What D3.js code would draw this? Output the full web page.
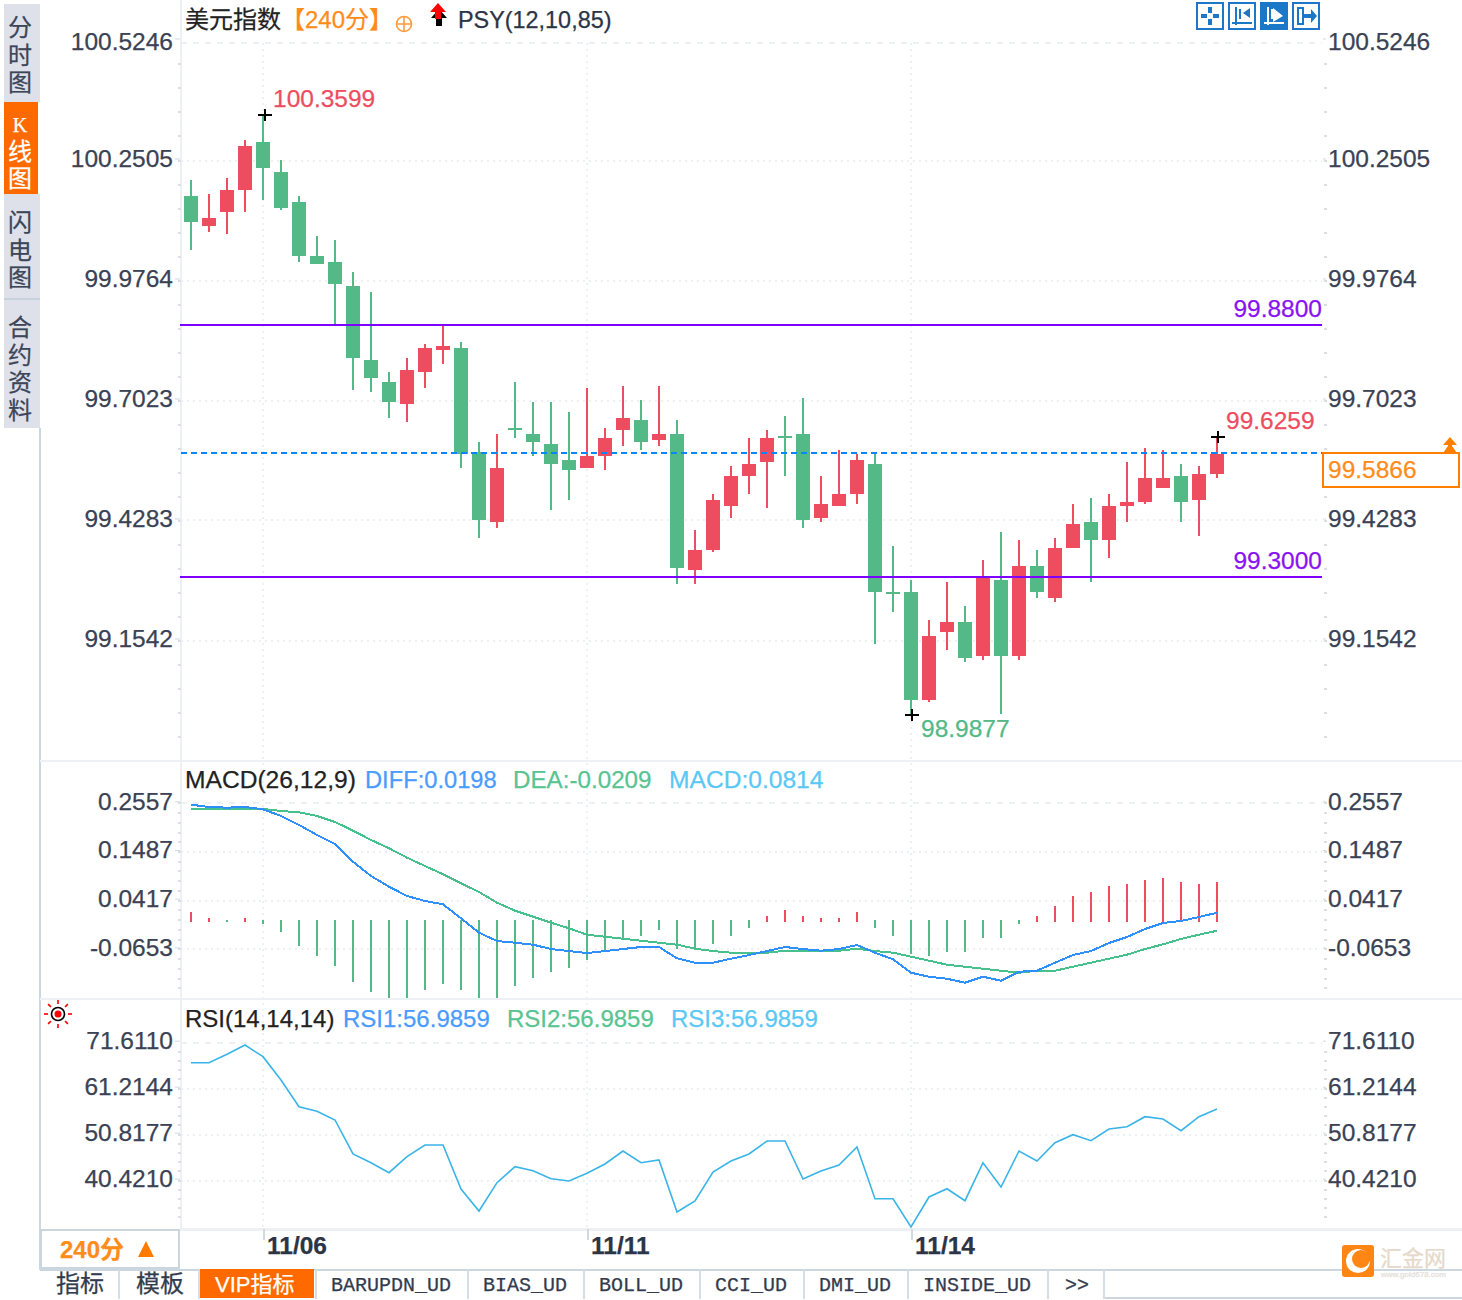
<!DOCTYPE html>
<html lang="zh">
<head>
<meta charset="UTF-8">
<title>美元指数</title>
<style>
  html, body { margin: 0; padding: 0; background: #fff; }
  svg { display: block; }
  text { font-family: "Liberation Sans", "Noto Sans CJK SC", sans-serif; stroke-width: 0.25px; }
  .tick text { font-size: 24.5px; fill: #3a4254; stroke: #3a4254; }
</style>
</head>
<body>
<svg id="chart" width="1462" height="1300"></svg>
<script src="https://cdnjs.cloudflare.com/ajax/libs/d3/7.8.5/d3.min.js"></script>
<script>
const opens = [100.1694,100.1009,100.1328,100.1831,100.2927,100.2242,100.1557,100.0323,100.0186,99.9638,99.7948,99.7445,99.6943,99.7674,99.8176,99.8222,99.5846,99.4247,99.6395,99.6258,99.6029,99.5664,99.5481,99.5755,99.6349,99.6577,99.6121,99.6258,99.3151,99.3608,99.4613,99.5298,99.5618,99.6212,99.6258,99.4339,99.4613,99.4887,99.5572,99.2649,99.2649,99.0182,99.1735,99.1963,99.1187,99.2923,99.1187,99.3242,99.2511,99.3654,99.4247,99.3836,99.4613,99.4704,99.5024,99.5298,99.4750,99.5344];
const closes = [100.1100,100.1191,100.1831,100.2836,100.2334,100.1420,100.0323,100.0141,99.9684,99.7994,99.7537,99.6989,99.7719,99.8222,99.8268,99.5801,99.4293,99.5481,99.6349,99.6075,99.5572,99.5435,99.5755,99.6166,99.6623,99.6075,99.6258,99.3197,99.3608,99.4750,99.5298,99.5572,99.6166,99.6166,99.4293,99.4659,99.4887,99.5664,99.2649,99.2603,99.0182,99.1644,99.1963,99.1141,99.2991,99.1187,99.3242,99.2649,99.3654,99.4202,99.3836,99.4613,99.4704,99.5253,99.5253,99.4704,99.5344,99.5801];
const highs = [100.2059,100.1740,100.2105,100.2973,100.3544,100.2516,100.1694,100.0780,100.0689,99.9958,99.9501,99.7674,99.7994,99.8313,99.8747,99.8359,99.6075,99.6258,99.7445,99.6989,99.6989,99.6760,99.7308,99.6395,99.7354,99.7034,99.7354,99.6577,99.4065,99.4887,99.5527,99.6166,99.6349,99.6669,99.7080,99.5298,99.5892,99.5801,99.5801,99.3699,99.2923,99.2009,99.2877,99.2329,99.3379,99.4019,99.3836,99.3608,99.3882,99.4659,99.4796,99.4887,99.5618,99.5938,99.5892,99.5572,99.5527,99.6189];
const lows = [100.0460,100.0872,100.0826,100.1328,100.1603,100.1374,100.0186,100.0141,99.8770,99.7263,99.7217,99.6623,99.6532,99.7308,99.7857,99.5481,99.3882,99.4110,99.6166,99.5755,99.4522,99.4750,99.5481,99.5435,99.5983,99.5892,99.5983,99.2831,99.2831,99.3562,99.4339,99.4887,99.4567,99.5298,99.4110,99.4247,99.4613,99.4659,99.1461,99.2192,98.9839,99.0136,99.1324,99.1050,99.1095,98.9862,99.1095,99.2511,99.2420,99.3654,99.2877,99.3425,99.4247,99.4659,99.5024,99.4247,99.3928,99.5253];

const macdHist = [0.0169,0.0037,-0.0051,0.0037,-0.0095,-0.0271,-0.0579,-0.0799,-0.1019,-0.1371,-0.1590,-0.1722,-0.1722,-0.1546,-0.1414,-0.1546,-0.1722,-0.1722,-0.1458,-0.1282,-0.1151,-0.1063,-0.0887,-0.0667,-0.0418,-0.0359,-0.0227,-0.0638,-0.0638,-0.0535,-0.0359,-0.0183,0.0081,0.0213,0.0081,0.0037,0.0037,0.0169,-0.0183,-0.0359,-0.0755,-0.0799,-0.0711,-0.0711,-0.0403,-0.0403,-0.0095,0.0081,0.0301,0.0520,0.0608,0.0740,0.0784,0.0872,0.0916,0.0828,0.0784,0.0828];
const diffLine = [0.2528,0.2477,0.2462,0.2477,0.2427,0.2279,0.2082,0.1862,0.1664,0.1275,0.0960,0.0725,0.0520,0.0411,0.0338,0.0030,-0.0286,-0.0469,-0.0506,-0.0550,-0.0645,-0.0689,-0.0733,-0.0689,-0.0645,-0.0601,-0.0601,-0.0849,-0.0946,-0.0946,-0.0858,-0.0777,-0.0689,-0.0601,-0.0645,-0.0682,-0.0645,-0.0557,-0.0726,-0.0871,-0.1166,-0.1254,-0.1298,-0.1386,-0.1254,-0.1342,-0.1144,-0.1122,-0.0946,-0.0777,-0.0689,-0.0513,-0.0381,-0.0205,-0.0073,-0.0029,0.0059,0.0153];
const deaLine = [0.2440,0.2440,0.2440,0.2440,0.2433,0.2389,0.2361,0.2279,0.2148,0.1956,0.1752,0.1569,0.1363,0.1180,0.0998,0.0800,0.0608,0.0373,0.0197,0.0065,-0.0067,-0.0190,-0.0330,-0.0374,-0.0418,-0.0462,-0.0506,-0.0550,-0.0638,-0.0689,-0.0726,-0.0726,-0.0726,-0.0682,-0.0682,-0.0682,-0.0682,-0.0638,-0.0689,-0.0726,-0.0814,-0.0902,-0.0990,-0.1034,-0.1078,-0.1122,-0.1166,-0.1122,-0.1122,-0.1034,-0.0946,-0.0858,-0.0770,-0.0645,-0.0542,-0.0425,-0.0330,-0.0243];
const rsiLine = [67.09,67.09,68.99,71.09,68.45,63.18,57.15,56.11,54.14,46.46,44.49,42.23,45.85,48.49,48.49,38.55,33.57,39.97,43.59,42.68,40.87,40.35,42.09,44.20,47.13,44.49,45.10,33.35,35.83,42.39,44.87,46.46,49.39,49.39,40.80,42.61,43.97,48.04,36.35,36.35,29.96,36.74,38.61,35.90,44.49,39.00,47.13,44.87,49.01,50.82,49.46,52.11,52.63,54.89,54.37,51.72,54.89,56.63];

const priceTicks = [100.5246,100.2505,99.9764,99.7023,99.4283,99.1542];
const macdTicks = [0.2557,0.1487,0.0417,-0.0653];
const rsiTicks = [71.6110,61.2144,50.8177,40.4210];
const dateLabels = ["11/06","11/11","11/14"];
const dateIndex = [4,22,40];

// level lines
const levelValues = [99.8747,99.2991];
const levelLabels = ["99.8800","99.3000"];
const lastLineValue = 99.5824;
const lastLabel = "99.5866";

const RED = "#ee4d5f", GREEN = "#53b987", PURPLE = "#8000ff";
const GRID = "#eef1f4", RULE = "#edf1f5", BORDER = "#ccd6df";
const plotL = 181, plotR = 1322;

const svg = d3.select("#chart");

const x = d3.scaleLinear().domain([0, opens.length - 1]).range([191, 1217]);
const yPrice = d3.scaleLinear().domain([99.1542, 100.2505]).range([640.5, 160.5]);
const yMacd = d3.scaleLinear().domain([0, 0.0417]).range([919.67, 900.7]);
const yRsi = d3.scaleLinear().domain([40.4210, 71.6110]).range([1180.7, 1042.7]);

function label(g, str, px, py, size, fill, anchor, weight) {
  return g.append("text").attr("x", px).attr("y", py).attr("font-size", size)
    .attr("fill", fill).attr("stroke", fill).attr("text-anchor", anchor || "start")
    .attr("font-weight", weight || "normal").text(str);
}
function box(g, px, py, w, h, fill) {
  return g.append("rect").attr("x", px).attr("y", py).attr("width", w).attr("height", h)
    .attr("fill", fill).attr("shape-rendering", "crispEdges");
}

// ---- frame ----
const frame = svg.append("g");
box(frame, 39, 428, 2, 842, BORDER);
box(frame, 180, 0, 2, 1229, RULE);
box(frame, 40, 760, 1422, 2, RULE);
box(frame, 40, 998, 1422, 2, RULE);
box(frame, 180, 1228, 1282, 3, RULE);

// ---- gridlines and axes for one panel ----
const tickFmt = d => d3.format(".4f")(d).replace("\u2212", "-");
function panel(scale, ticks, topY, bottomY, shift, topNudge) {
  const g = svg.append("g");
  ticks.forEach((t, i) => {
    const py = i === 0 ? topY : Math.round(scale(t));
    g.append("line").attr("x1", plotL).attr("x2", plotR).attr("y1", py).attr("y2", py)
      .attr("stroke", GRID).attr("stroke-width", 2)
      .attr("stroke-dasharray", i === 0 ? "6,6" : "2,4")
      .attr("shape-rendering", "crispEdges");
  });
  // minor ticks, five per major step
  const step = (ticks[0] - ticks[1]) / 5;
  const minor = d3.range(0, 40).map(k => ticks[0] - k * step)
    .filter(v => scale(v) >= topY && scale(v) <= bottomY);
  [178, 1324].forEach(mx => {
    g.selectAll(null).data(minor).join("rect")
      .attr("x", mx).attr("y", d => Math.round(scale(d)) - 1)
      .attr("width", 3).attr("height", 2).attr("fill", "#d9dfe5")
      .attr("shape-rendering", "crispEdges");
  });
  const left = g.append("g").attr("transform", `translate(180,${shift})`)
    .call(d3.axisLeft(scale).tickValues(ticks).tickFormat(tickFmt).tickSize(5).tickPadding(2));
  const right = g.append("g").attr("transform", `translate(1323,${shift})`)
    .call(d3.axisRight(scale).tickValues(ticks).tickFormat(tickFmt).tickSize(3).tickPadding(2));
  [left, right].forEach(a => {
    a.select(".domain").remove();
    a.selectAll("line").attr("stroke", "#d3d9df");
    a.selectAll(".tick text").filter((d, i) => i === 0).attr("transform", `translate(0,${topNudge})`);
  });
}
panel(yPrice, priceTicks, 43, 745, -2, 3);
panel(yMacd, macdTicks, 803, 998, -2, 0);
panel(yRsi, rsiTicks, 1043, 1225, -2, 0);

// vertical date gridlines
svg.append("g").selectAll("line").data(dateIndex).join("line")
  .attr("x1", d => x(d)).attr("x2", d => x(d)).attr("y1", 43).attr("y2", 1228)
  .attr("stroke", GRID).attr("stroke-width", 2).attr("stroke-dasharray", "2,4")
  .attr("shape-rendering", "crispEdges");

// ---- candles ----
const idx = d3.range(opens.length);
const candles = svg.append("g").attr("shape-rendering", "crispEdges");
const candleColor = i => closes[i] >= opens[i] ? RED : GREEN;
candles.selectAll(".wick").data(idx).join("rect").attr("class", "wick")
  .attr("x", i => x(i) - 1).attr("width", 2)
  .attr("y", i => yPrice(highs[i])).attr("height", i => yPrice(lows[i]) - yPrice(highs[i]))
  .attr("fill", candleColor);
candles.selectAll(".body").data(idx).join("rect").attr("class", "body")
  .attr("x", i => x(i) - 7).attr("width", 14)
  .attr("y", i => yPrice(Math.max(opens[i], closes[i])))
  .attr("height", i => Math.max(2, Math.abs(yPrice(opens[i]) - yPrice(closes[i]))))
  .attr("fill", candleColor);

// ---- level lines ----
const levels = svg.append("g");
levelValues.forEach((v, i) => {
  levels.append("line").attr("x1", 180).attr("x2", plotR).attr("y1", yPrice(v)).attr("y2", yPrice(v))
    .attr("stroke", PURPLE).attr("stroke-width", 2).attr("shape-rendering", "crispEdges");
  label(levels, levelLabels[i], 1322, yPrice(v) - 8, 24.5, "#8a12f2", "end");
});
levels.append("line").attr("x1", plotL).attr("x2", plotR)
  .attr("y1", yPrice(lastLineValue)).attr("y2", yPrice(lastLineValue))
  .attr("stroke", "#0a84ff").attr("stroke-width", 2).attr("stroke-dasharray", "6,4")
  .attr("shape-rendering", "crispEdges");

// last price box
const last = svg.append("g");
last.append("rect").attr("x", 1323).attr("y", 453).attr("width", 136).attr("height", 34)
  .attr("fill", "#fff").attr("stroke", "#ff8000").attr("stroke-width", 2).attr("shape-rendering", "crispEdges");
label(last, lastLabel, 1328, 478, 24.5, "#ff8c1a");
last.append("path").attr("d", "M1450 437l7 8h-5v1l5 7h-14l5-7v-1h-5z").attr("fill", "#ff8000");

// high / low markers
function cross(g, px, py) {
  box(g, px - 7, py - 1, 14, 2, "#000");
  box(g, px - 1, py - 6, 2, 12, "#000");
}
const marks = svg.append("g");
cross(marks, x(4) + 2, yPrice(highs[4]));
label(marks, "100.3599", 273, 107, 24.5, RED);
cross(marks, x(40) + 1, yPrice(lows[40]));
label(marks, "98.9877", 921, 737, 24.5, GREEN);
cross(marks, x(57) + 1, yPrice(highs[57]));
label(marks, "99.6259", 1226, 429, 24.5, RED);

// ---- MACD ----
const macdG = svg.append("g").attr("shape-rendering", "crispEdges");
macdG.selectAll("rect").data(idx).join("rect")
  .attr("x", i => x(i) - 1).attr("width", 2)
  .attr("y", i => macdHist[i] > 0 ? yMacd(macdHist[i]) : yMacd(0))
  .attr("height", i => macdHist[i] > 0 ? yMacd(0) - yMacd(macdHist[i]) + 2 : yMacd(macdHist[i]) - yMacd(0))
  .attr("fill", i => macdHist[i] > 0 ? RED : GREEN);
const macdPath = d3.line().x((d, i) => x(i)).y(d => yMacd(d));
macdG.append("path").attr("d", macdPath(deaLine)).attr("fill", "none").attr("stroke", "#46c08c").attr("stroke-width", 2);
macdG.append("path").attr("d", macdPath(diffLine)).attr("fill", "none").attr("stroke", "#2f8ffb").attr("stroke-width", 2);

// ---- RSI ----
const rsiPath = d3.line().x((d, i) => x(i)).y(d => yRsi(d));
svg.append("path").attr("d", rsiPath(rsiLine)).attr("fill", "none")
  .attr("stroke", "#3ab4e8").attr("stroke-width", 1.6);

// ---- date axis ----
const dateG = svg.append("g");
dateIndex.forEach((d, i) => {
  box(dateG, x(d), 1229, 2, 11, "#d3d9df");
  label(dateG, dateLabels[i], x(d) + 4, 1254, 24.5, "#2c3446", "start", "bold");
});

// ---- legends ----
const legend = svg.append("g");
label(legend, "美元指数", 185, 28, 24, "#222");
label(legend, "【240分】", 281, 28, 24, "#ff8c1a");
legend.append("circle").attr("cx", 404).attr("cy", 24).attr("r", 7.5).attr("fill", "none").attr("stroke", "#ff9a3c").attr("stroke-width", 1.6);
legend.append("path").attr("d", "M396 24h16M404 16v16").attr("stroke", "#ff9a3c").attr("stroke-width", 1.6);
legend.append("path").attr("d", "M438 8l8 9h-5v8h-6v-8h-5z").attr("fill", "#000").attr("transform", "translate(1,1)");
legend.append("path").attr("d", "M438 3l8 9h-5v7h-6v-7h-5z").attr("fill", "#f00");
label(legend, "PSY(12,10,85)", 458, 28, 23.4, "#2c3446");
label(legend, "MACD(26,12,9)", 185, 788, 24.6, "#222");
label(legend, "DIFF:0.0198", 365, 788, 23.7, "#4a9bff");
label(legend, "DEA:-0.0209", 513, 788, 24.2, "#57c492");
label(legend, "MACD:0.0814", 669, 788, 24.6, "#5ac8f5");
label(legend, "RSI(14,14,14)", 185, 1027, 24, "#222");
label(legend, "RSI1:56.9859", 343, 1027, 24, "#4a9bff");
label(legend, "RSI2:56.9859", 507, 1027, 24, "#57c492");
label(legend, "RSI3:56.9859", 671, 1027, 24, "#5ac8f5");

// sun icon
const sun = svg.append("g").attr("transform", "translate(58,1014)");
sun.append("circle").attr("r", 6.5).attr("fill", "#fff").attr("stroke", "#000").attr("stroke-width", 1.6);
sun.append("circle").attr("r", 3.5).attr("fill", "#f00");
d3.range(8).forEach(k => {
  const a = k * Math.PI / 4;
  sun.append("line").attr("x1", 10 * Math.cos(a)).attr("y1", 10 * Math.sin(a))
    .attr("x2", 14 * Math.cos(a)).attr("y2", 14 * Math.sin(a)).attr("stroke", "#f00").attr("stroke-width", 1.6);
});

// ---- toolbar icons ----
const tools = svg.append("g");
[1196, 1228, 1260, 1292].forEach((tx, i) => {
  tools.append("rect").attr("x", tx + 1).attr("y", 3).attr("width", 26).attr("height", 26)
    .attr("fill", i === 2 ? "#1b78c8" : "#fff").attr("stroke", "#1b78c8").attr("stroke-width", 2)
    .attr("shape-rendering", "crispEdges");
  const c = i === 2 ? "#fff" : "#1b78c8";
  if (i === 0) {
    box(tools, tx + 12, 7, 4, 6, c); box(tools, tx + 12, 19, 4, 6, c);
    box(tools, tx + 5, 14, 6, 4, c); box(tools, tx + 17, 14, 6, 4, c);
  } else if (i === 3) {
    tools.append("path").attr("d", `M${tx + 6} 8h5v16h-5z`).attr("fill", "none").attr("stroke", c).attr("stroke-width", 2);
    tools.append("path").attr("d", `M${tx + 11} 14h8v-5l6 7l-6 7v-5h-8z`).attr("fill", c);
  } else {
    tools.append("path").attr("d", `M${tx + 8} 7v18M${tx + 4} 23h20M${tx + 12} 9v10`).attr("stroke", c).attr("stroke-width", 2).attr("fill", "none");
    tools.append("path").attr("d", i === 2 ? `M${tx + 13} 8l10 8l-10 6z` : `M${tx + 22} 8l-7 5l7 5z`).attr("fill", c);
  }
});

// ---- left rail ----
const rail = svg.append("g");
box(rail, 4, 4, 36, 98, "#dfe1ea");
box(rail, 4, 102, 34, 92, "#ff6a00");
box(rail, 4, 194, 36, 104, "#dfe1ea");
box(rail, 4, 298, 36, 2, "#c9d2dc");
box(rail, 4, 300, 36, 128, "#dfe1ea");
const railTabs = [["分","时","图"],["K","线","图"],["闪","电","图"],["合","约","资","料"]];
const railStarts = [36, 132, 231, 336];
railTabs.forEach((tab, t) => {
  tab.forEach((ch, i) => {
    const c = label(rail, ch, 20, railStarts[t] + i * 27.6, 24, t === 1 ? "#fff" : "#3c4658", "middle");
    if (ch === "K") c.style("font-family", "'Liberation Serif', serif").attr("font-size", 20);
  });
});

// ---- bottom bar ----
const bar = svg.append("g");
bar.append("rect").attr("x", 41).attr("y", 1230).attr("width", 138).attr("height", 38)
  .attr("fill", "#fff").attr("stroke", BORDER).attr("stroke-width", 2).attr("shape-rendering", "crispEdges");
label(bar, "240分", 60, 1258, 24, "#ff8c1a", "start", "bold");
bar.append("path").attr("d", "M146 1241l8 16h-16z").attr("fill", "#ff7a00");
box(bar, 40, 1269, 1422, 2, BORDER);
box(bar, 1103, 1297, 359, 2, BORDER);
box(bar, 200, 1269, 114, 29, "#ff6a00");
const tabNames = ["指标","模板","VIP指标","BARUPDN_UD","BIAS_UD","BOLL_UD","CCI_UD","DMI_UD","INSIDE_UD",">>"];
const tabStarts = [56,136,215,331,483,599,715,819,923,1065];
const tabEdges = [118,198,315,467,583,699,803,907,1047,1103];
tabNames.forEach((name, i) => {
  const mono = i > 2;
  const t = label(bar, name, tabStarts[i], mono ? 1291 : 1292, mono ? 20 : 24, i === 2 ? "#fff" : "#333b4d");
  if (mono) t.style("font-family", "'Liberation Mono', monospace");
  if (i === 2) t.attr("font-size", 22);
  box(bar, tabEdges[i], 1270, 2, 29, "#d6dde4");
});

// ---- watermark ----
const mark = svg.append("g");
mark.append("rect").attr("x", 1342).attr("y", 1245).attr("width", 32).attr("height", 32).attr("rx", 3).attr("fill", "#ff8514");
mark.append("circle").attr("cx", 1358).attr("cy", 1261).attr("r", 12).attr("fill", "#fff");
mark.append("circle").attr("cx", 1361).attr("cy", 1259).attr("r", 9).attr("fill", "#ff8514");
mark.append("path").attr("d", "M1361 1259L1374 1247V1262Z").attr("fill", "#ff8514");
label(mark, "汇金网", 1380, 1266, 22, "#e6d9ca");
label(mark, "www.gold678.com", 1381, 1277, 8, "#e4e0da");
</script>
</body>
</html>
